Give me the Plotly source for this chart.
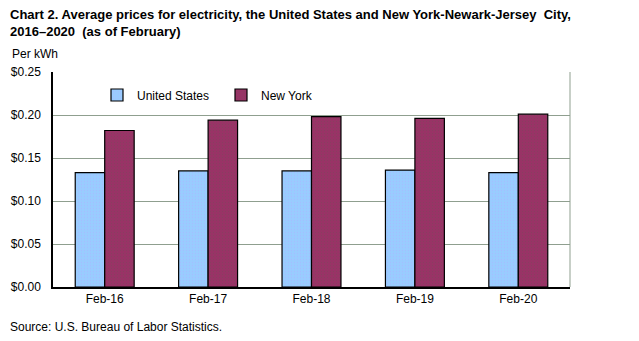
import plotly.graph_objects as go

categories = ["Feb-16", "Feb-17", "Feb-18", "Feb-19", "Feb-20"]
us_values = [0.133, 0.135, 0.135, 0.136, 0.133]
ny_values = [0.182, 0.194, 0.198, 0.196, 0.201]
y_ticks = [0, 0.05, 0.10, 0.15, 0.20, 0.25]
y_tick_labels = ["$0.00", "$0.05", "$0.10", "$0.15", "$0.20", "$0.25"]

W, H = 639, 341
L, R, T, B = 53, 69, 72, 54
grid = "#8f9f8f"
font = "Liberation Sans, Arial, sans-serif"

fig = go.Figure()
fig.add_trace(go.Bar(
    x=categories, y=us_values, name="United States",
    marker=dict(color="#99ccff", line=dict(color="black", width=1.2),
                pattern=dict(shape=".", fgcolor="#b0b0ff", size=3, solidity=0.15)),
))
fig.add_trace(go.Bar(
    x=categories, y=ny_values, name="New York",
    marker=dict(color="#993366", line=dict(color="black", width=1.2),
                pattern=dict(shape=".", fgcolor="#7a4a5a", size=3, solidity=0.15)),
))

fig.update_layout(
    width=W, height=H,
    margin=dict(l=L, r=R, t=T, b=B),
    paper_bgcolor="white", plot_bgcolor="white",
    barmode="group", bargap=0.43, bargroupgap=0,
    font=dict(family=font, size=12, color="black"),
    showlegend=True,
    legend=dict(orientation="h", x=(97 - L) / (W - L - R), y=(H - B - 95) / (H - T - B),
                xanchor="left", yanchor="middle", bgcolor="rgba(0,0,0,0)",
                font=dict(size=12), itemwidth=30, traceorder="normal",
                entrywidth=79, entrywidthmode="pixels"),
    xaxis=dict(showline=True, linecolor="black", linewidth=1.5, ticks="",
               showgrid=False, tickfont=dict(size=12)),
    yaxis=dict(range=[0, 0.25], tickvals=y_ticks, ticktext=y_tick_labels,
               showline=True, linecolor="black", linewidth=1.5,
               showgrid=True, gridcolor=grid, gridwidth=1, zeroline=False,
               ticks="", ticklabelstandoff=8, tickfont=dict(size=12)),
    shapes=[dict(type="line", xref="paper", yref="paper", x0=1, x1=1, y0=0, y1=1,
                 line=dict(color=grid, width=1))],
    annotations=[
        dict(text="<b>Chart 2. Average prices for electricity, the United States and New York-Newark-Jersey  City,<br>2016–2020  (as of February)</b>",
             xref="paper", yref="paper", x=-(L - 8) / (W - L - R), y=1 + (T - 5) / (H - T - B),
             xanchor="left", yanchor="top", showarrow=False, align="left",
             font=dict(size=13, family=font)),
        dict(text="Per kWh", xref="paper", yref="paper",
             x=-(L - 10) / (W - L - R), y=1 + (T - 54) / (H - T - B),
             xanchor="left", yanchor="middle", showarrow=False, font=dict(size=12)),
        dict(text="Source: U.S. Bureau of Labor Statistics.", xref="paper", yref="paper",
             x=-(L - 8) / (W - L - R), y=-(327 - (H - B)) / (H - T - B),
             xanchor="left", yanchor="middle", showarrow=False, font=dict(size=12)),
    ],
)

fig.write_html("out.html")
